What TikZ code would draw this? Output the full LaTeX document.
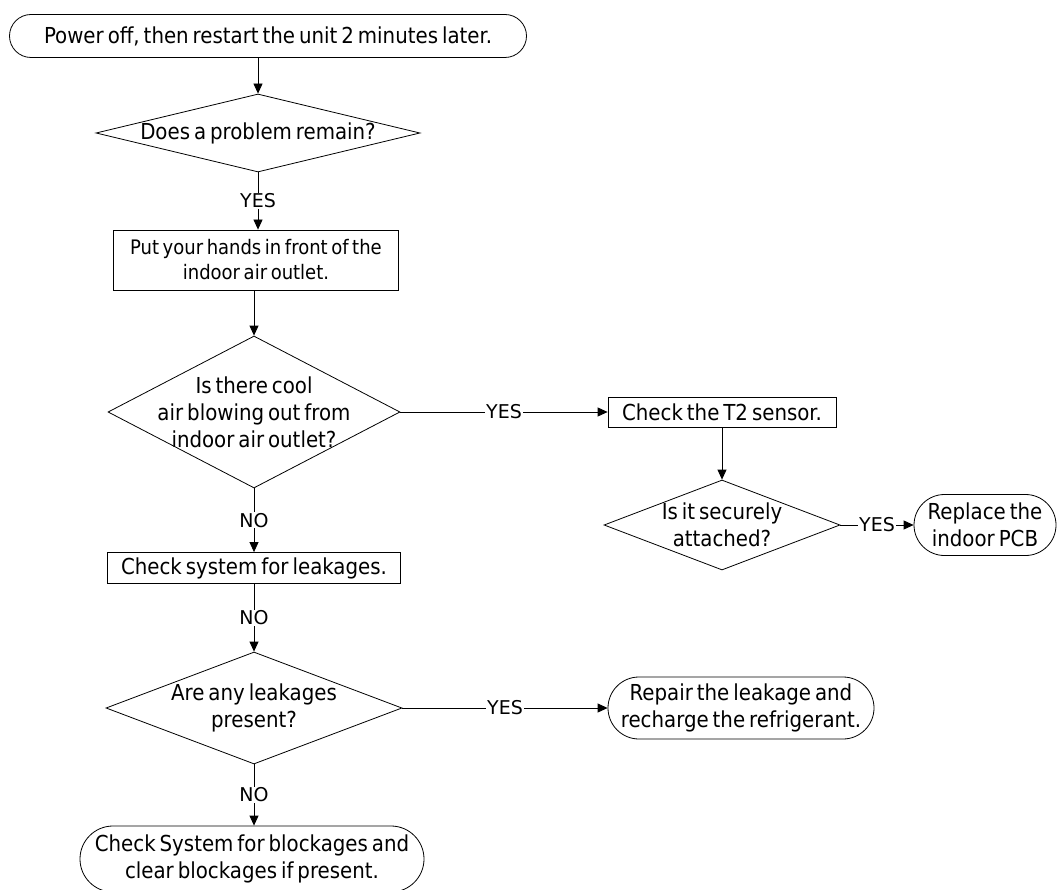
\documentclass[tikz,border=0pt]{standalone}
\usepackage{fontspec}
\setmainfont{DejaVu Sans Condensed}
\newfontfamily\lblfont{DejaVu Sans}
\usetikzlibrary{shapes.geometric,shapes.misc,arrows.meta}
\newcommand{\bigtxt}{\fontsize{22}{27}\selectfont\spaceskip=0.18em\relax}
\newcommand{\midtxt}{\fontsize{20}{25}\selectfont\spaceskip=0.18em\relax}
\begin{document}
\begin{tikzpicture}[x=1pt,y=-1pt,
  base/.style={draw=black, line width=0.8pt},
  term/.style={base, rounded rectangle, inner sep=0pt, align=center, font=\bigtxt},
  proc/.style={base, rectangle, inner sep=0pt, align=center, font=\bigtxt},
  dia/.style={base, diamond, inner sep=0pt},
  txt/.style={align=center, font=\bigtxt},
  lbl/.style={fill=white, inner sep=1pt, font=\lblfont\fontsize{19}{22}\selectfont},
  arr/.style={line width=0.8pt, -{Triangle[length=10pt,width=9pt]}}]
\useasboundingbox (0,0) rectangle (1064,890);
\node[term, minimum width=517pt, minimum height=43pt] (t1) at (268,36) {Power off, then restart the unit 2 minutes later.};
\node[dia, minimum width=324pt, minimum height=78pt] (d1) at (258,133) {};
\node[txt] (d1t) at (d1.center) {Does a problem remain?};
\node[proc, minimum width=285pt, minimum height=60pt, font=\midtxt] (b1) at (256,260) {Put your hands in front of the\\indoor air outlet.};
\node[dia, minimum width=292pt, minimum height=152pt] (d2) at (254,412) {};
\node[txt] (d2t) at (254,412) {Is there cool\\air blowing out from\\indoor air outlet?};
\node[proc, minimum width=228pt, minimum height=30pt] (b2) at (722,412) {Check the T2 sensor.};
\node[dia, minimum width=236pt, minimum height=90pt] (d3) at (722,525) {};
\node[txt] (d3t) at (722,525) {Is it securely\\attached?};
\node[term, minimum width=142pt, minimum height=61pt] (t2) at (985,525) {Replace the\\indoor PCB};
\node[proc, minimum width=293pt, minimum height=31pt] (b3) at (254,568) {Check system for leakages.};
\node[dia, minimum width=296pt, minimum height=112pt] (d4) at (254,708) {};
\node[txt] (d4t) at (254,708) {Are any leakages\\present?};
\node[term, minimum width=266pt, minimum height=62pt] (t3) at (741,708) {Repair the leakage and\\recharge the refrigerant.};
\node[term, minimum width=344pt, minimum height=66pt] (t4) at (252,859) {Check System for blockages and\\clear blockages if present.};
\draw[arr] (t1.south -| d1.north) -- (d1.north);
\draw[arr] (d1.south) -- node[lbl]{YES} (b1.north -| d1.south);
\draw[arr] (b1.south -| d2.north) -- (d2.north);
\draw[arr] (d2.east) -- node[lbl]{YES} (b2.west);
\draw[arr] (b2.south) -- (d3.north);
\draw[arr] (d3.east) -- node[lbl]{YES} (t2.west);
\draw[arr] (d2.south) -- node[lbl]{NO} (b3.north -| d2.south);
\draw[arr] (b3.south -| d4.north) -- node[lbl]{NO} (d4.north);
\draw[arr] (d4.east) -- node[lbl]{YES} (t3.west);
\draw[arr] (d4.south) -- node[lbl]{NO} (t4.north -| d4.south);
\end{tikzpicture}
\end{document}
